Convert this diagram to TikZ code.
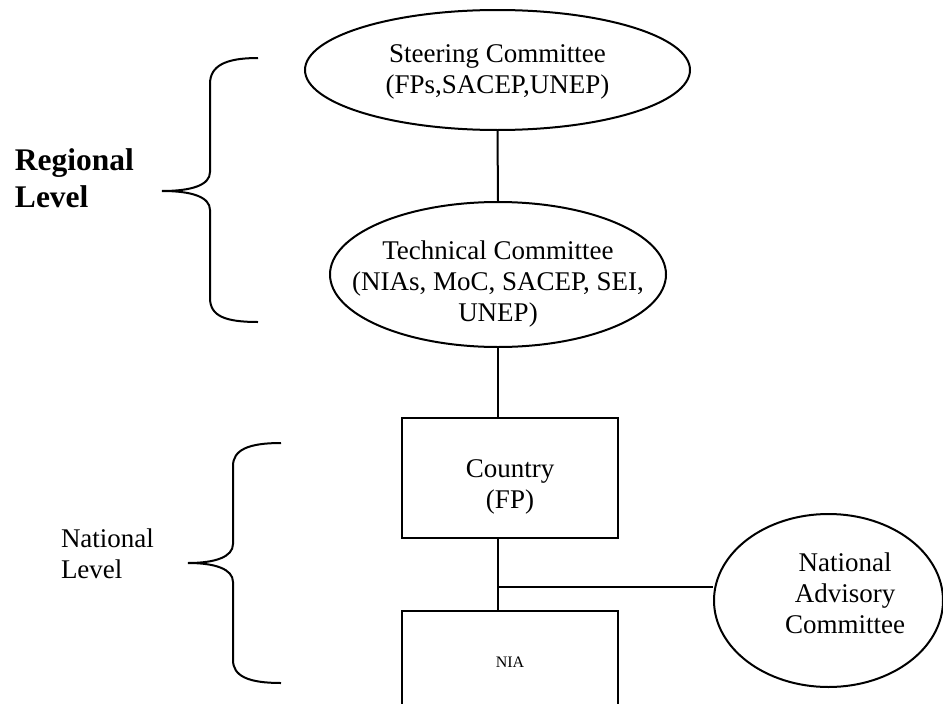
\documentclass[tikz,border=0pt]{standalone}
\usepackage{fontspec}
\setmainfont{Liberation Serif}
\usetikzlibrary{shapes.geometric}
\begin{document}
\begin{tikzpicture}[x=1pt,y=-1pt,line width=2pt,
  ell/.style={draw,ellipse,inner sep=0pt},
  boxnode/.style={draw,rectangle,inner sep=0pt},
  txt/.style={font=\fontsize{27}{31}\selectfont,align=center,inner sep=0pt},
  brace/.style={line width=2pt}]
\useasboundingbox (0,0) rectangle (943,704);
\clip (0,0) rectangle (943,704);
% shapes
\node[ell,minimum width=385pt,minimum height=120pt] (sc) at (497.5,70) {};
\node[ell,minimum width=336pt,minimum height=145pt] (tc) at (498,274.5) {};
\node[boxnode,minimum width=216pt,minimum height=120pt] (ctry) at (510,478) {};
\node[boxnode,minimum width=216pt,minimum height=130pt] (nia) at (510,676) {};
\node[ell,minimum width=229pt,minimum height=173pt] (nac) at (828.5,600.5) {};
% texts
\node[txt] (sct) at (497.5,72) {Steering Committee\\(FPs,SACEP,UNEP)};
\node[txt] (tct) at (498,284) {Technical Committee\\(NIAs, MoC, SACEP, SEI,\\UNEP)};
\node[txt] (ctryt) at (510,487) {Country\\(FP)};
\node[txt] (nact) at (845,593) {National\\Advisory\\Committee};
\node[inner sep=0pt,font=\fontsize{16}{19}\selectfont] (niat) at (510,662.5) {NIA};
\node[txt,align=left,anchor=west] (natl) at (60,554) {National\\Level};
\node[inner sep=0pt,align=left,anchor=west,font=\fontsize{31.5}{37}\bfseries\selectfont] (regl) at (14,178) {Regional\\Level};
% connectors
\coordinate (j) at (tc.south |- 0,587);
\draw (sc.south) -- (tc.north);
\draw (tc.south) -- (tc.south |- ctry.north);
\draw (tc.south |- ctry.south) -- (tc.south |- nia.north);
\draw (j) -- (j -| nac.west);
% braces
\draw[brace] (258,58) .. controls (225,58) and (210,66) .. (210,84) -- (210,172)
  .. controls (210,185) and (192,191) .. (162,191)
  .. controls (192,191) and (210,197) .. (210,210) -- (210,298)
  .. controls (210,316) and (225,322) .. (258,322);
\draw[brace] (281,443) .. controls (248,443) and (233,450) .. (233,466) -- (233,544)
  .. controls (233,557) and (215,563) .. (188,563)
  .. controls (215,563) and (233,569) .. (233,582) -- (233,660)
  .. controls (233,676) and (248,683) .. (281,683);
\end{tikzpicture}
\end{document}
